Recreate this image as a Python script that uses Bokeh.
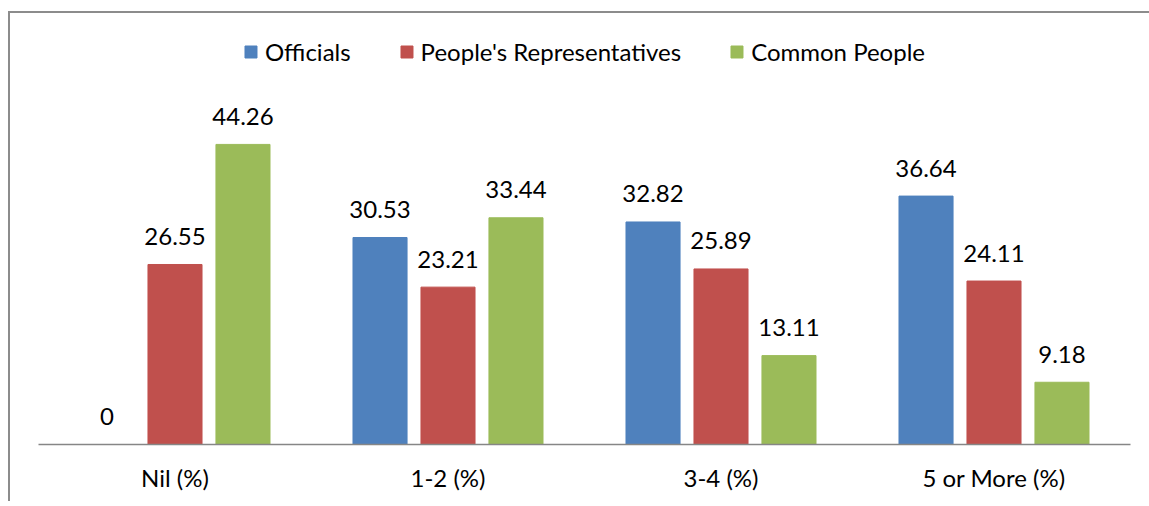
from bokeh.plotting import figure
from bokeh.models import FactorRange, Range1d, ColumnDataSource, Legend, LegendItem
from bokeh.transform import dodge
from bokeh.core.properties import value
from bokeh.embed import file_html
from bokeh.resources import INLINE

categories = ["Nil (%)", "1-2 (%)", "3-4 (%)", "5 or More (%)"]
series_names = ["Officials", "People's Representatives", "Common People"]
officials = [0, 30.53, 32.82, 36.64]
representatives = [26.55, 23.21, 25.89, 24.11]
common_people = [44.26, 33.44, 13.11, 9.18]
colors = ["#4F81BD", "#C0504D", "#9BBB59"]

FONT = "Lato"

source = ColumnDataSource(data=dict(
    cat=categories,
    officials=officials,
    representatives=representatives,
    common=common_people,
    officials_lbl=[f"{v:g}" for v in officials],
    representatives_lbl=[f"{v:g}" for v in representatives],
    common_lbl=[f"{v:g}" for v in common_people],
))

# the chart sits in a panel offset from the page corner, with a gray
# edge along its left and top sides
p = figure(
    x_range=FactorRange(*categories),
    y_range=Range1d(0, 63.57),
    width=1145, height=490,
    output_backend="svg", toolbar_location=None,
    y_axis_location=None,
    min_border_left=28, min_border_right=25,
    min_border_top=0, min_border_bottom=59,
)
p.margin = (13, 0, 0, 10)
p.styles = {"box-shadow": "-2px -2px 0 0 #8c8c8c"}
p.outline_line_color = None
p.xgrid.visible = False
p.ygrid.visible = False
p.background_fill_color = "white"
p.border_fill_color = "white"

offsets = [-0.249, 0.0, 0.249]
fields = ["officials", "representatives", "common"]
renderers = []
for off, fld, col in zip(offsets, fields, colors):
    r = p.vbar(x=dodge("cat", off, range=p.x_range), top=fld, width=0.198,
               source=source, fill_color=col, line_color=col)
    renderers.append(r)
    p.text(x=dodge("cat", off, range=p.x_range), y=fld, text=fld + "_lbl",
           source=source, text_align="center", text_baseline="alphabetic",
           y_offset=-28, text_font=value(FONT), text_font_size="24px",
           text_color="#000000")

legend = Legend(
    items=[LegendItem(label=n, renderers=[r]) for n, r in zip(series_names, renderers)],
    orientation="horizontal", location="top_center",
    label_text_font=FONT, label_text_font_size="24px", label_text_color="#000000",
    glyph_width=15, glyph_height=15, label_standoff=7, spacing=48,
    border_line_color=None, background_fill_alpha=0,
    margin=24, padding=8,
)
p.add_layout(legend)

xa = p.xaxis[0]
xa.axis_line_color = "#868686"
xa.axis_line_width = 1.5
xa.major_tick_line_color = None
xa.minor_tick_line_color = None
xa.major_label_text_font = FONT
xa.major_label_text_font_size = "24px"
xa.major_label_text_color = "#000000"
xa.major_label_standoff = 12

open("out.html", "w").write(file_html(p, INLINE))
